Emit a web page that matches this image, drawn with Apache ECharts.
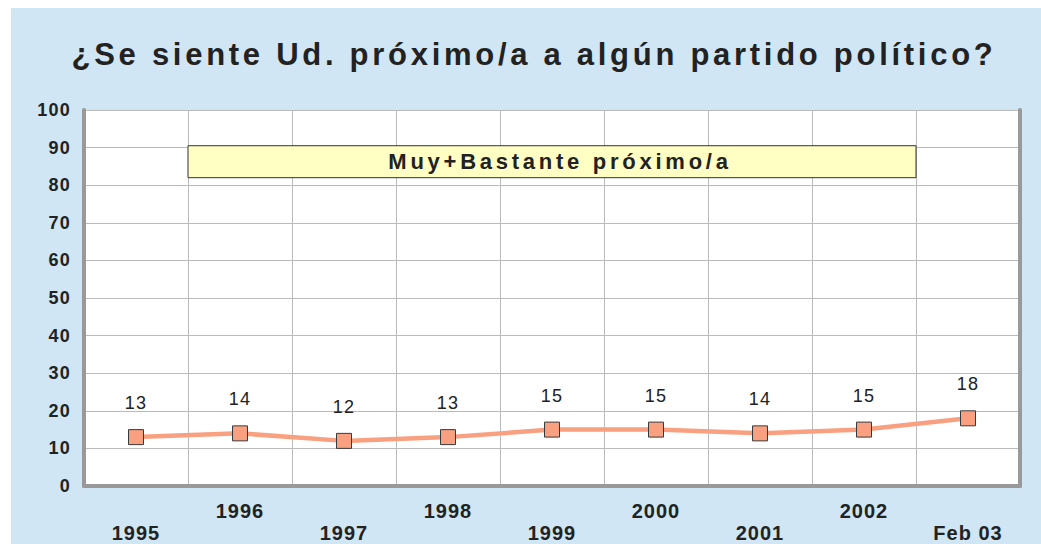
<!DOCTYPE html>
<html>
<head>
<meta charset="utf-8">
<script src="https://cdn.jsdelivr.net/npm/echarts@6/dist/echarts.min.js"></script>
<style>
  html, body { margin: 0; padding: 0; background: #ffffff; }
  #panel { position: absolute; left: 11px; top: 8px; right: 0; bottom: 0; background: #d0e6f4; }
  #chart { position: absolute; left: 0; top: 0; width: 1041px; height: 544px; }
  /* open tracking on the chart's lettering */
  #chart svg text { letter-spacing: 0.07em !important; }
  #chart svg text.track-title { letter-spacing: 0.12em !important; }
  #chart svg text.track-caption { letter-spacing: 0.17em !important; }
  #chart svg text.track-cat { letter-spacing: 0.05em !important; }
</style>
</head>
<body>
<div id="panel"></div>
<div id="chart"></div>
<script>
// Survey years and share who feel very or fairly close to a party (%)
const categories = ['1995', '1996', '1997', '1998', '1999', '2000', '2001', '2002', 'Feb 03'];
const closeValues = [13, 14, 12, 13, 15, 15, 14, 15, 18];
const titleText = '¿Se siente Ud. próximo/a a algún partido político?';
const boxText = 'Muy+Bastante próximo/a';
const yTicks = { min: 0, max: 100, interval: 10 };

const chart = echarts.init(document.getElementById('chart'), null, { renderer: 'svg' });

const font = '"Liberation Sans", Arial, sans-serif';

chart.setOption({
  backgroundColor: 'transparent',
  animation: false,
  title: {
    text: titleText,
    left: 529,
    top: 34,
    textAlign: 'center',
    textStyle: { fontFamily: font, fontWeight: 'bold', fontSize: 31, color: '#222222' }
  },
  grid: { left: 84, right: 21, top: 110, bottom: 52, show: true, backgroundColor: '#ffffff', borderWidth: 0 },
  xAxis: {
    type: 'category',
    data: categories,
    boundaryGap: true,
    axisLine: { show: true, lineStyle: { color: '#999999', width: 4 } },
    axisTick: { show: false },
    splitLine: { show: true, lineStyle: { color: '#bbbbbb', width: 1 } },
    axisLabel: {
      interval: 0,
      margin: 14,
      fontFamily: font,
      fontWeight: 'bold',
      fontSize: 20,
      color: '#222222',
      lineHeight: 22,
      // alternate the year labels between an upper and a lower row
      formatter: (v, i) => (i % 2 === 1 ? v : '\n' + v)
    }
  },
  yAxis: [
    {
      type: 'value',
      min: yTicks.min,
      max: yTicks.max,
      interval: yTicks.interval,
      axisLine: { show: true, lineStyle: { color: '#999999', width: 4 } },
      axisTick: { show: false },
      splitLine: { show: true, lineStyle: { color: '#bbbbbb', width: 1 } },
      axisLabel: { margin: 13, fontFamily: font, fontWeight: 'bold', fontSize: 18, color: '#222222' }
    },
    {
      type: 'value',
      position: 'right',
      min: yTicks.min,
      max: yTicks.max,
      interval: yTicks.interval,
      axisLine: { show: true, lineStyle: { color: '#999999', width: 4 } },
      axisTick: { show: false },
      splitLine: { show: false },
      axisLabel: { show: false }
    }
  ],
  series: [{
    type: 'line',
    data: closeValues,
    yAxisIndex: 0,
    symbol: 'rect',
    symbolSize: 15,
    lineStyle: { color: '#f9a080', width: 4.5 },
    itemStyle: { color: '#f9a080', borderColor: '#3a3a3a', borderWidth: 1 },
    label: {
      show: true,
      position: 'top',
      distance: 17,
      fontFamily: font,
      fontSize: 18,
      color: '#222222'
    },
    z: 5
  }]
});

// Caption box spanning from the 1995/1996 boundary to the 2002/Feb 03 boundary
function drawCaption() {
  const x0 = chart.convertToPixel({ xAxisIndex: 0 }, 0);
  const x1 = chart.convertToPixel({ xAxisIndex: 0 }, 1);
  const step = x1 - x0;
  const left = x0 + step / 2;
  const right = chart.convertToPixel({ xAxisIndex: 0 }, 7) + step / 2;
  const top = chart.convertToPixel({ yAxisIndex: 0 }, 90.5);
  const bottom = chart.convertToPixel({ yAxisIndex: 0 }, 82);
  chart.setOption({
    graphic: [{
      type: 'group',
      children: [
        {
          type: 'rect',
          shape: { x: left, y: top, width: right - left, height: bottom - top },
          style: { fill: '#ffffc4', stroke: '#333333', lineWidth: 1 },
          z: 10
        },
        {
          type: 'text',
          x: (left + right) / 2 + 8,
          y: (top + bottom) / 2,
          style: {
            text: boxText,
            fontFamily: font,
            fontWeight: 'bold',
            fontSize: 22,
            fill: '#222222',
            align: 'center',
            verticalAlign: 'middle'
          },
          z: 11
        }
      ]
    }]
  });
}
drawCaption();

// tracking classes for the heading, the caption and the category labels
document.querySelectorAll('#chart svg text').forEach(function (t) {
  const s = t.textContent;
  if (s === titleText) t.classList.add('track-title');
  else if (s === boxText) t.classList.add('track-caption');
  else if (categories.indexOf(s) !== -1) t.classList.add('track-cat');
});
</script>
</body>
</html>
